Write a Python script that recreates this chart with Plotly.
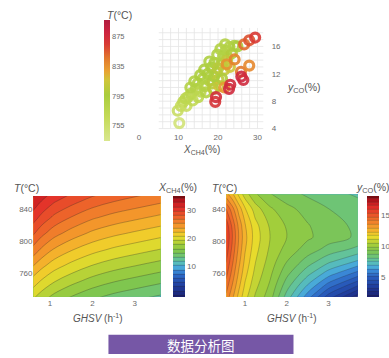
import plotly.graph_objects as go

W, H = 389, 358
def fx(p): return p / W
def fy(p): return 1 - p / H

# ---------------- scatter data (X_CH4 %, y_CO %, T degC) ----------------
x_ch4 = [10.2, 9.8, 10.6, 11.2, 12.0, 12.4, 13.2, 13.6, 14.4, 14.9, 15.6, 16.2, 16.7, 17.4,
         17.8, 18.6, 18.3, 19.1, 19.6, 20.1, 20.8, 21.3, 21.6, 22.4, 22.0, 22.9, 23.5, 24.1,
         24.9, 20.3, 21.0, 15.0, 17.0, 19.0, 23.0,
         11.8, 13.0, 14.0, 15.5, 16.5, 17.8, 19.8, 20.6, 21.8, 18.8, 20.0, 22.2,
         22.2, 24.2, 25.8, 27.9, 26.6, 27.9, 21.6,
         29.4, 25.9, 22.8, 19.5, 19.3, 23.1, 26.4]
y_co = [4.8, 6.6, 7.3, 7.9, 7.3, 8.6, 9.1, 8.1, 9.8, 10.6, 9.4, 11.3, 10.2, 12.0,
        11.0, 10.6, 12.9, 13.6, 12.2, 11.2, 13.4, 14.6, 12.6, 14.4, 15.4, 15.9, 15.0, 16.1,
        16.0, 10.2, 11.3, 8.6, 9.3, 11.6, 13.0,
        8.4, 10.0, 10.9, 11.8, 12.6, 13.8, 14.8, 15.6, 16.3, 9.8, 12.8, 13.9,
        13.4, 14.1, 12.3, 13.2, 16.3, 16.9, 10.0,
        17.3, 11.6, 9.8, 8.6, 7.9, 10.4, 11.1]
temp_pts = [748, 760, 765, 772, 760, 778, 782, 770, 786, 790, 778, 792, 786, 796,
            790, 802, 794, 796, 800, 806, 800, 794, 812, 806, 790, 786, 800, 792,
            796, 818, 800, 775, 788, 798, 815,
            775, 785, 790, 795, 798, 792, 790, 788, 785, 805, 804, 808,
            836, 842, 846, 840, 850, 858, 832,
            866, 880, 878, 875, 870, 876, 877]

# ---------------- contour 1: X_CH4 (%) vs GHSV and T ----------------
ghsv1 = [0.55, 0.8, 1.1, 1.5, 2.0, 2.5, 3.0, 3.7]
temp1 = [730, 750, 770, 790, 810, 830, 850, 860]
xch4_grid = [
    [19.7, 18.4, 17.2, 16.1, 15.0, 14.2, 13.6, 12.8],
    [21.8, 20.5, 19.3, 18.2, 17.1, 16.3, 15.7, 14.9],
    [24.1, 22.7, 21.4, 20.3, 19.2, 18.4, 17.8, 17.0],
    [26.6, 25.0, 23.6, 22.4, 21.3, 20.5, 19.9, 19.1],
    [28.8, 27.2, 25.8, 24.6, 23.4, 22.6, 22.0, 21.2],
    [30.8, 29.3, 27.9, 26.7, 25.5, 24.7, 24.1, 23.3],
    [32.6, 31.2, 29.9, 28.8, 27.6, 26.8, 26.2, 25.4],
    [33.5, 32.1, 30.9, 29.8, 28.7, 27.9, 27.2, 26.4],
]

# ---------------- contour 2: y_CO (%) vs GHSV and T ----------------
ghsv2 = [0.55, 0.7, 0.85, 1.0, 1.25, 1.6, 2.0, 2.5, 3.0, 3.7]
temp2 = [730, 745, 760, 775, 790, 805, 820, 840, 860]
yco_grid = [
    [14.00, 13.10, 12.20, 11.40, 10.50, 9.65, 7.90, 6.00, 4.20, 2.30],
    [14.53, 13.55, 12.57, 11.72, 10.77, 9.90, 8.46, 6.93, 5.51, 4.01],
    [15.02, 13.96, 12.91, 12.01, 11.01, 10.13, 8.97, 7.78, 6.69, 5.55],
    [15.44, 14.32, 13.21, 12.26, 11.22, 10.33, 9.41, 8.52, 7.73, 6.91],
    [15.79, 14.62, 13.45, 12.47, 11.39, 10.50, 9.78, 9.13, 8.58, 8.02],
    [16.00, 14.80, 13.60, 12.60, 11.50, 10.60, 10.00, 9.50, 9.10, 8.70],
    [15.79, 14.62, 13.45, 12.47, 11.39, 10.51, 9.93, 9.44, 9.05, 8.66],
    [14.83, 13.84, 12.78, 11.88, 10.90, 10.11, 9.59, 9.16, 8.81, 8.46],
    [13.11, 12.43, 11.58, 10.83, 10.03, 9.40, 9.00, 8.67, 8.38, 8.09],
]

t_ticks_scatter = [755, 795, 835, 875]
xs_ticks = [0, 10, 20, 30]
ys_ticks = [4, 8, 12, 16]
g_ticks = [1, 2, 3]
t_ticks = [760, 800, 840]

FONT = "Liberation Sans"
TXT = "#6a6a6a"

temp_scale = [
    [0.00, "#d9e78e"], [0.20, "#c4da57"], [0.38, "#aacd3d"], [0.50, "#cfc63a"],
    [0.58, "#e9a132"], [0.68, "#e27a2d"], [0.80, "#d83a34"], [0.90, "#cc2440"],
    [1.00, "#b01c40"],
]
jet_scale = [
    [0.00, "#1a1f6e"], [0.10, "#1f3a9a"], [0.20, "#2a5fc0"], [0.26, "#3a88d6"],
    [0.30, "#4aaed8"], [0.35, "#5cc2b0"], [0.40, "#6cc47a"], [0.46, "#80c64e"],
    [0.52, "#a3ce3b"], [0.60, "#eedc2b"], [0.68, "#f5a82c"], [0.78, "#ee6a2a"],
    [0.88, "#e2312a"], [0.95, "#c0171f"], [1.00, "#7a0d12"],
]

fig = go.Figure()

fig.add_trace(go.Scatter(
    x=x_ch4, y=y_co, mode="markers", xaxis="x", yaxis="y",
    marker=dict(symbol="circle-open", size=9, line=dict(width=3.2),
                color=temp_pts, colorscale=temp_scale, cmin=735, cmax=898,
                opacity=0.9,
                colorbar=dict(x=fx(103), xanchor="left", y=fy(81), yanchor="middle",
                              len=122 / H, lenmode="fraction", thickness=6,
                              xpad=0, ypad=0, outlinewidth=0, ticks="",
                              tickvals=t_ticks_scatter,
                              tickfont=dict(size=7.5, color=TXT, family=FONT))),
    showlegend=False, hoverinfo="skip"))

# filled contours: colour domain = [start - size/2, end + size/2]
fig.add_trace(go.Contour(
    x=ghsv1, y=temp1, z=xch4_grid, xaxis="x2", yaxis="y2",
    colorscale=jet_scale,
    contours=dict(start=-0.25, end=34.25, size=1.5, coloring="fill"),
    line=dict(color="rgba(40,40,40,0.5)", width=0.6, smoothing=1),
    colorbar=dict(x=fx(171.7), xanchor="left", y=fy(249), yanchor="middle",
                  len=102 / H, lenmode="fraction", thickness=12,
                  xpad=0, ypad=0, outlinewidth=0, ticks="", tickvals=[10, 20, 30],
                  tickfont=dict(size=8, color=TXT, family=FONT)),
    showlegend=False, hoverinfo="skip"))

fig.add_trace(go.Contour(
    x=ghsv2, y=temp2, z=yco_grid, xaxis="x3", yaxis="y3",
    colorscale=jet_scale,
    contours=dict(start=2.2, end=17.8, size=0.6, coloring="fill"),
    line=dict(color="rgba(40,40,40,0.42)", width=0.6, smoothing=1),
    colorbar=dict(x=fx(366.7), xanchor="left", y=fy(249), yanchor="middle",
                  len=102 / H, lenmode="fraction", thickness=11.6,
                  xpad=0, ypad=0, outlinewidth=0, ticks="", tickvals=[5, 10, 15],
                  tickfont=dict(size=8, color=TXT, family=FONT)),
    showlegend=False, hoverinfo="skip"))

tick_font = dict(size=8, color=TXT, family=FONT)
ax_common = dict(showgrid=False, zeroline=False, showline=False, ticks="",
                 tickfont=tick_font)

def y_at(py):
    return 4 + (130 - py) / 6.92

shapes = []
gx0, gx1, gy0, gy1 = 5, 31.5, 4, 18.7
for gx in range(6, 32, 2):
    shapes.append(dict(type="line", xref="x", yref="y", x0=gx, x1=gx, y0=gy0, y1=gy1,
                       line=dict(color="#e4e4e4", width=0.8), layer="below"))
for gy in range(4, 19):
    shapes.append(dict(type="line", xref="x", yref="y", x0=gx0, x1=gx1, y0=gy, y1=gy,
                       line=dict(color="#e4e4e4", width=0.8), layer="below"))
shapes.append(dict(type="rect", xref="paper", yref="paper",
                   x0=fx(107), x1=fx(293), y0=fy(358), y1=fy(338.5),
                   fillcolor="#7657a6", line=dict(width=0), layer="above"))

def ann(text, px, py, size=9, xanchor="left", color="#555", family=FONT):
    return dict(text=text, x=fx(px), y=fy(py), xref="paper", yref="paper",
                xanchor=xanchor, yanchor="middle", showarrow=False,
                font=dict(size=size, color=color, family=family))

annotations = [
    ann("<i>T</i>(°C)", 104, 15, 10.5),
    ann("<i>X</i><sub>CH4</sub>(%)", 201, 152, 10, "center"),
    ann("<i>y</i><sub>CO</sub>(%)", 284, 89, 10.5),
    ann("<i>T</i>(°C)", 10, 190, 10.5),
    ann("<i>X</i><sub>CH4</sub>(%)", 155, 190, 10.5),
    ann("<i>T</i>(°C)", 209, 190, 10.5),
    ann("<i>y</i><sub>CO</sub>(%)", 354, 190, 10.5),
    ann("<i>GHSV</i> (h<sup>-1</sup>)", 96, 322, 10, "center"),
    ann("<i>GHSV</i> (h<sup>-1</sup>)", 292, 322, 10, "center"),
    ann("数据分析图", 200, 348.5, 13.5, "center", "white", "Noto Sans CJK SC"),
]

fig.update_layout(
    width=W, height=H, autosize=False,
    margin=dict(l=0, r=0, t=0, b=0),
    paper_bgcolor="white", plot_bgcolor="rgba(0,0,0,0)",
    font=dict(family=FONT, color=TXT),
    xaxis=dict(domain=[fx(137.7), fx(263)], range=[0, 31.55], tickvals=xs_ticks,
               anchor="y", ticklabelstandoff=1, **ax_common),
    yaxis=dict(domain=[fy(131), fy(25)], range=[y_at(131), y_at(25)], tickvals=ys_ticks,
               side="right", anchor="x", ticklabelstandoff=7, **ax_common),
    xaxis2=dict(domain=[fx(31.7), fx(159.3)], range=[0.61, 3.61], tickvals=g_ticks,
                anchor="y2", **ax_common),
    yaxis2=dict(domain=[fy(300), fy(198.3)], range=[731.3, 856.5], tickvals=t_ticks,
                anchor="x2", **ax_common),
    xaxis3=dict(domain=[fx(225.7), fx(357.7)], range=[0.56, 3.70], tickvals=g_ticks,
                anchor="y3", **ax_common),
    yaxis3=dict(domain=[fy(300), fy(196.7)], range=[731.3, 858.1], tickvals=t_ticks,
                anchor="x3", **ax_common),
    shapes=shapes, annotations=annotations,
)

fig.write_html("out.html", config={"displayModeBar": False},
               post_script="document.body.style.margin='0px';")
